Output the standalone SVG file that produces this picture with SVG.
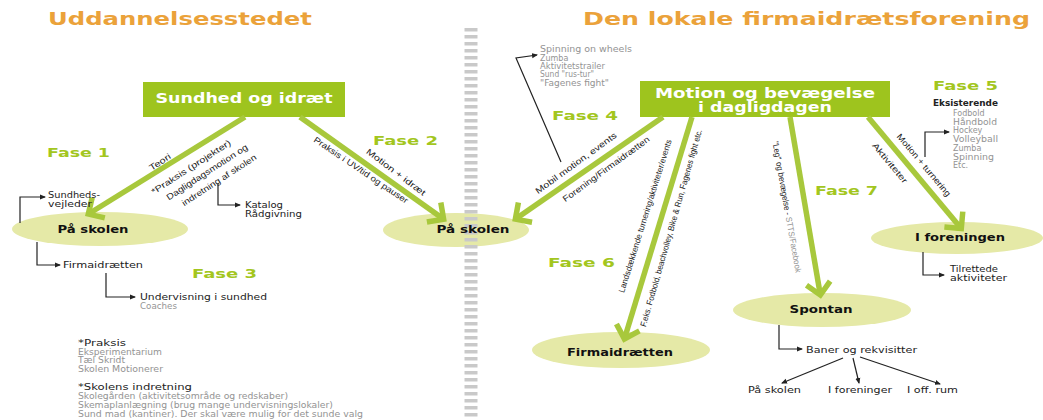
<svg xmlns="http://www.w3.org/2000/svg" width="1043" height="420" viewBox="0 0 1043 420">
<defs>
<style>
.title{font-family:"DejaVu Sans",sans-serif;font-weight:bold;font-size:18px;fill:#EBA23A}
.box{fill:#9EC41E}
.boxt{font-family:"DejaVu Sans",sans-serif;font-weight:bold;font-size:14px;fill:#fff;text-anchor:middle}
.ell{fill:#E5E9A7}
.ellt{font-family:"DejaVu Sans",sans-serif;font-weight:bold;font-size:11px;fill:#111;text-anchor:middle}
.fase{font-family:"DejaVu Sans",sans-serif;font-weight:bold;font-size:13px;fill:#A3C61E}
.lbl{font-family:"DejaVu Sans",sans-serif;font-size:8.5px;fill:#222}
.g{fill:#959595}
.note{font-family:"DejaVu Sans",sans-serif;font-size:8px;fill:#939393}
.noteh{font-family:"DejaVu Sans",sans-serif;font-size:9px;fill:#222}
.rot{font-family:"Liberation Sans",sans-serif;font-size:8.5px;fill:#222;text-anchor:middle}
.big{stroke:#A8C83C;stroke-width:5.5;fill:none;marker-end:url(#chev)}
.thin{stroke:#222;stroke-width:1.2;fill:none;marker-end:url(#tri)}
</style>
<marker id="chev" markerUnits="userSpaceOnUse" markerWidth="32" markerHeight="32" viewBox="0 0 32 32" refX="24" refY="16" orient="auto">
<path d="M14,4 L26,16 L14,28" fill="none" stroke="#A8C83C" stroke-width="5.5"/>
</marker>
<marker id="tri" markerUnits="userSpaceOnUse" markerWidth="6" markerHeight="6" viewBox="0 0 6 6" refX="5" refY="3" orient="auto">
<path d="M0,0.5 L6,3 L0,5.5 Z" fill="#222"/>
</marker>
</defs>
<rect width="1043" height="420" fill="#fff"/>

<g id="titles">
<text class="title" x="48" y="25" textLength="264" lengthAdjust="spacingAndGlyphs">Uddannelsesstedet</text>
<text class="title" x="583" y="25" textLength="447" lengthAdjust="spacingAndGlyphs">Den lokale firmaidrætsforening</text>
</g>

<g id="n-skolen1"><ellipse class="ell" cx="100" cy="229" rx="88" ry="17"/><text class="ellt" x="93" y="233" textLength="71" lengthAdjust="spacingAndGlyphs">På skolen</text></g>
<g id="n-skolen2"><ellipse class="ell" cx="456" cy="230" rx="73" ry="17"/></g>

<g id="divider"><line x1="471" y1="28" x2="471" y2="420" stroke="#c9c9c9" stroke-width="13" stroke-dasharray="3.5 3.5"/></g>
<text class="ellt" x="473" y="233" textLength="73" lengthAdjust="spacingAndGlyphs">På skolen</text>

<g id="n-sundhed"><rect class="box" x="143" y="82" width="202" height="35"/><text class="boxt" x="244" y="103" textLength="177" lengthAdjust="spacingAndGlyphs">Sundhed og idræt</text></g>
<g id="n-motion"><rect class="box" x="640" y="81" width="250" height="36"/>
<text class="boxt" x="765" y="98" font-size="13" textLength="220" lengthAdjust="spacingAndGlyphs">Motion og bevægelse</text>
<text class="boxt" x="765" y="112" font-size="13" textLength="134" lengthAdjust="spacingAndGlyphs">i dagligdagen</text></g>
<g id="n-firma"><ellipse class="ell" cx="621" cy="350" rx="89" ry="18"/><text class="ellt" x="620" y="356" textLength="106" lengthAdjust="spacingAndGlyphs">Firmaidrætten</text></g>
<g id="n-spontan"><ellipse class="ell" cx="822" cy="310" rx="89" ry="17"/><text class="ellt" x="821" y="313" textLength="63" lengthAdjust="spacingAndGlyphs">Spontan</text></g>
<g id="n-forening"><ellipse class="ell" cx="957" cy="238" rx="86" ry="16"/><text class="ellt" x="960" y="241" textLength="90" lengthAdjust="spacingAndGlyphs">I foreningen</text></g>

<g id="connectors">
<path class="big" d="M245,117 L90,213"/>
<path class="big" d="M300,117 L442,218"/>
<path class="big" d="M663,117 L517,218"/>
<path class="big" d="M692,117 L625,337"/>
<path class="big" d="M790,117 L820,293"/>
<path class="big" d="M868,117 L960,227"/>
<path class="thin" d="M20,223 V197 H45"/>
<path class="thin" d="M37,242 V265 H60"/>
<path class="thin" d="M106,273 V297 H135"/>
<path class="thin" d="M218,183 V205 H240"/>
<path class="thin" d="M561,162 L516,58 L537,55"/>
<path class="thin" d="M925,157 V132 H949"/>
<path class="thin" d="M923,252 V275 H944"/>
<path class="thin" d="M779,325 V349 H802"/>
<path class="thin" d="M843,358 L782,383"/>
<path class="thin" d="M853,358 L859,383"/>
<path class="thin" d="M860,357 L940,384"/>
</g>

<g id="arrow-labels">
<text class="rot" transform="translate(160,162) rotate(-33)" dy="3" textLength="24" lengthAdjust="spacingAndGlyphs">Teori</text>
<text class="rot" transform="translate(191,167) rotate(-33)" dy="3" textLength="93" lengthAdjust="spacingAndGlyphs">*Praksis (projekter)</text>
<text class="rot g" transform="translate(207,172) rotate(-33)" dy="3" textLength="95" lengthAdjust="spacingAndGlyphs">Dagligdagsmotion og</text>
<text class="rot g" transform="translate(219,180) rotate(-33)" dy="3" textLength="87" lengthAdjust="spacingAndGlyphs">indretning af skolen</text>
<text class="rot" transform="translate(361,170) rotate(34)" dy="3" textLength="112" lengthAdjust="spacingAndGlyphs">Praksis i UV/tid og pauser</text>
<text class="rot" transform="translate(396,172) rotate(37)" dy="3" textLength="72" lengthAdjust="spacingAndGlyphs">Motion + idræt</text>
<text class="rot" transform="translate(576,163) rotate(-36)" dy="3" textLength="98" lengthAdjust="spacingAndGlyphs">Mobil motion, events</text>
<text class="rot" transform="translate(606,169) rotate(-36)" dy="3" textLength="105" lengthAdjust="spacingAndGlyphs">Forening/Firmaidrætten</text>
<text class="rot" transform="translate(645,216) rotate(-72.6)" dy="3" textLength="160" lengthAdjust="spacingAndGlyphs">Landsdækkende turnering/aktiviteter/events</text>
<text class="rot" transform="translate(671,228) rotate(-74)" dy="3" textLength="205" lengthAdjust="spacingAndGlyphs">F.eks. Fodbold, beachvolley, Bike &amp; Run, Fagenes fight etc.</text>
<text class="rot" transform="translate(787,207) rotate(80)" dy="3" textLength="133" lengthAdjust="spacingAndGlyphs">"Leg" og bevægelse - <tspan class="g">STTS/Facebook</tspan></text>
<text class="rot" transform="translate(924,165) rotate(50)" dy="3" textLength="79" lengthAdjust="spacingAndGlyphs">Motion + turnering</text>
<text class="rot" transform="translate(890,163) rotate(50)" dy="3" textLength="50" lengthAdjust="spacingAndGlyphs">Aktiviteter</text>
</g>

<g id="phases">
<text class="fase" x="47" y="157" textLength="63" lengthAdjust="spacingAndGlyphs">Fase 1</text>
<text class="fase" x="373" y="145" textLength="65" lengthAdjust="spacingAndGlyphs">Fase 2</text>
<text class="fase" x="192" y="278" textLength="65" lengthAdjust="spacingAndGlyphs">Fase 3</text>
<text class="fase" x="552" y="120" textLength="66" lengthAdjust="spacingAndGlyphs">Fase 4</text>
<text class="fase" x="933" y="90" textLength="65" lengthAdjust="spacingAndGlyphs">Fase 5</text>
<text class="fase" x="548" y="267" textLength="67" lengthAdjust="spacingAndGlyphs">Fase 6</text>
<text class="fase" x="815" y="195" textLength="63" lengthAdjust="spacingAndGlyphs">Fase 7</text>
</g>

<g id="side-labels">
<text class="lbl" x="48" y="198" textLength="52" lengthAdjust="spacingAndGlyphs">Sundheds-</text>
<text class="lbl" x="48" y="207" textLength="44" lengthAdjust="spacingAndGlyphs">vejleder</text>
<text class="lbl" x="63" y="268" textLength="80" lengthAdjust="spacingAndGlyphs">Firmaidrætten</text>
<text class="lbl" x="140" y="300" textLength="127" lengthAdjust="spacingAndGlyphs">Undervisning i sundhed</text>
<text class="lbl g" x="140" y="309" textLength="37" lengthAdjust="spacingAndGlyphs">Coaches</text>
<text class="lbl" x="245" y="208" textLength="38" lengthAdjust="spacingAndGlyphs">Katalog</text>
<text class="lbl" x="245" y="217" textLength="57" lengthAdjust="spacingAndGlyphs">Rådgivning</text>
<text class="lbl" x="950" y="272" textLength="48" lengthAdjust="spacingAndGlyphs">Tilrettede</text>
<text class="lbl" x="950" y="281" textLength="57" lengthAdjust="spacingAndGlyphs">aktiviteter</text>
<text class="lbl" x="806" y="353" textLength="111" lengthAdjust="spacingAndGlyphs">Baner og rekvisitter</text>
<text class="lbl" x="748" y="393" textLength="53" lengthAdjust="spacingAndGlyphs">På skolen</text>
<text class="lbl" x="828" y="393" textLength="64" lengthAdjust="spacingAndGlyphs">I foreninger</text>
<text class="lbl" x="907" y="393" textLength="51" lengthAdjust="spacingAndGlyphs">I off. rum</text>
<text class="lbl" x="933" y="106" font-weight="bold" textLength="65" lengthAdjust="spacingAndGlyphs">Eksisterende</text>
</g>

<g id="lists">
<text class="note" x="953" y="116">Fodbold</text>
<text class="note" x="953" y="125" textLength="44" lengthAdjust="spacingAndGlyphs">Håndbold</text>
<text class="note" x="953" y="133">Hockey</text>
<text class="note" x="953" y="142" textLength="45" lengthAdjust="spacingAndGlyphs">Volleyball</text>
<text class="note" x="953" y="151">Zumba</text>
<text class="note" x="953" y="160" textLength="41" lengthAdjust="spacingAndGlyphs">Spinning</text>
<text class="note" x="953" y="168">Etc.</text>
<text class="note" x="540" y="52" textLength="92" lengthAdjust="spacingAndGlyphs">Spinning on wheels</text>
<text class="note" x="540" y="61">Zumba</text>
<text class="note" x="540" y="69" textLength="65" lengthAdjust="spacingAndGlyphs">Aktivitetstrailer</text>
<text class="note" x="540" y="77" textLength="54" lengthAdjust="spacingAndGlyphs">Sund "rus-tur"</text>
<text class="note" x="540" y="86" textLength="69" lengthAdjust="spacingAndGlyphs">"Fagenes fight"</text>
<text class="noteh" x="78" y="346" textLength="48" lengthAdjust="spacingAndGlyphs">*Praksis</text>
<text class="note" x="78" y="355" textLength="84" lengthAdjust="spacingAndGlyphs">Eksperimentarium</text>
<text class="note" x="78" y="363" textLength="47" lengthAdjust="spacingAndGlyphs">Tæl Skridt</text>
<text class="note" x="78" y="372" textLength="85" lengthAdjust="spacingAndGlyphs">Skolen Motionerer</text>
<text class="noteh" x="78" y="390" textLength="114" lengthAdjust="spacingAndGlyphs">*Skolens indretning</text>
<text class="note" x="78" y="399" textLength="210" lengthAdjust="spacingAndGlyphs">Skolegården (aktivitetsområde og redskaber)</text>
<text class="note" x="78" y="408" textLength="255" lengthAdjust="spacingAndGlyphs">Skemaplanlægning (brug mange undervisningslokaler)</text>
<text class="note" x="78" y="417" textLength="285" lengthAdjust="spacingAndGlyphs">Sund mad (kantiner). Der skal være mulig for det sunde valg</text>
</g>
</svg>
